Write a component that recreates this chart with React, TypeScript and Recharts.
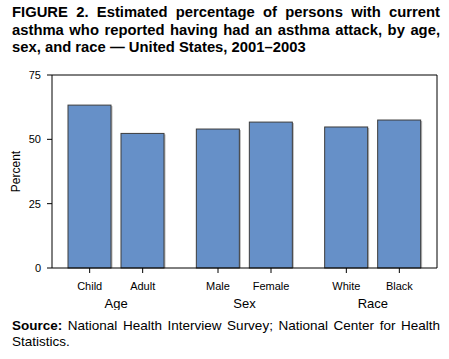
import React from 'react';
import { BarChart, Bar, XAxis, YAxis } from 'recharts';

const groups = ['Age', 'Sex', 'Race'];
const firstLabels = ['Child', 'Male', 'White'];
const secondLabels = ['Adult', 'Female', 'Black'];
const firstValues = [63.3, 54.0, 54.8];
const secondValues = [52.3, 56.7, 57.5];
const yTicks = [0, 25, 50, 75];

const data = groups.map((g, i) => ({
  group: g,
  first: firstValues[i],
  second: secondValues[i],
}));

const BAR_SIZE = 43;
const BAR_GAP = 10;
const FONT = 'Arial, "Liberation Sans", Helvetica, sans-serif';

const BarShape = (props: any) => {
  const { x, y, width, height } = props;
  if (!height || height <= 0) return null;
  return (
    <g>
      <rect x={x + 1.5} y={y + 1} width={width} height={height - 1} fill="#b8b8b8" />
      <rect x={x} y={y} width={width} height={height} fill="#6690c8" stroke="#3c3c3c" strokeWidth={1} />
    </g>
  );
};

const GroupTick = (props: any) => {
  const { x, y, index, payload } = props;
  const d = (BAR_SIZE + BAR_GAP) / 2;
  return (
    <g fontFamily={FONT}>
      <line x1={x - d} x2={x - d} y1={y} y2={y + 5} stroke="#000" />
      <line x1={x + d} x2={x + d} y1={y} y2={y + 5} stroke="#000" />
      <text x={x - d} y={y + 22} textAnchor="middle" fontSize={11} fill="#000">
        {firstLabels[index]}
      </text>
      <text x={x + d} y={y + 22} textAnchor="middle" fontSize={11} fill="#000">
        {secondLabels[index]}
      </text>
      <text x={x} y={y + 40} textAnchor="middle" fontSize={13} fill="#000">
        {payload.value}
      </text>
    </g>
  );
};

export default function App() {
  return (
    <div style={{ position: 'absolute', left: 0, top: 0, width: 449, height: 359, background: '#fff', fontFamily: FONT, color: '#000' }}>
      <div style={{ position: 'absolute', left: 12, top: 4, width: 428, fontSize: 14.8, fontWeight: 'bold', lineHeight: '17.5px' }}>
        <div style={{ textAlign: 'justify', textAlignLast: 'justify' }}>FIGURE 2. Estimated percentage of persons with current</div>
        <div style={{ textAlign: 'justify', textAlignLast: 'justify' }}>asthma who reported having had an asthma attack, by age,</div>
        <div>sex, and race — United States, 2001–2003</div>
      </div>
      <div style={{ position: 'absolute', left: 0, top: 60 }}>
        <BarChart
          width={449}
          height={250}
          data={data}
          margin={{ top: 14, right: 11, left: 0, bottom: 0 }}
          barSize={BAR_SIZE}
          barGap={BAR_GAP}
        >
          <XAxis
            dataKey="group"
            height={42}
            axisLine={{ stroke: '#000' }}
            tickLine={false}
            tickSize={0}
            tickMargin={0}
            interval={0}
            tick={<GroupTick />}
          />
          <XAxis xAxisId="top" orientation="top" dataKey="group" height={1} tick={false} tickLine={false} axisLine={{ stroke: '#000' }} />
          <YAxis
            domain={[0, 75]}
            ticks={yTicks}
            width={52}
            axisLine={{ stroke: '#000' }}
            tickLine={{ stroke: '#000' }}
            tickSize={5}
            tickMargin={6}
            tick={{ fill: '#000', fontSize: 11, fontFamily: FONT }}
            label={{ value: 'Percent', angle: -90, position: 'insideLeft', offset: 16, style: { fill: '#000', fontSize: 12, fontFamily: FONT, textAnchor: 'middle' } }}
          />
          <YAxis yAxisId="right" orientation="right" width={1} domain={[0, 75]} tick={false} tickLine={false} axisLine={{ stroke: '#000' }} />
          <Bar dataKey="first" shape={<BarShape />} isAnimationActive={false} />
          <Bar dataKey="second" shape={<BarShape />} isAnimationActive={false} />
        </BarChart>
      </div>
      <div style={{ position: 'absolute', left: 12, top: 318, width: 428, fontSize: 13.5, lineHeight: '16px' }}>
        <div style={{ textAlign: 'justify', textAlignLast: 'justify' }}>
          <b>Source:</b> National Health Interview Survey; National Center for Health
        </div>
        <div>Statistics.</div>
      </div>
    </div>
  );
}
